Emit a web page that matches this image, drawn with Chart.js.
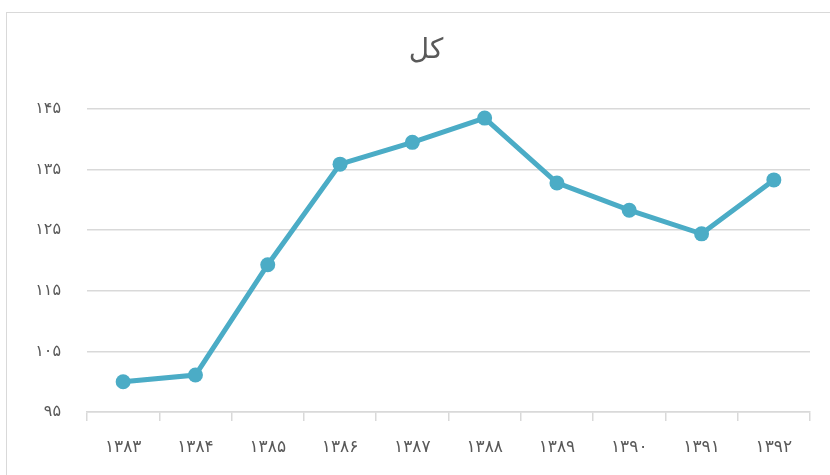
<!DOCTYPE html>
<html>
<head>
<meta charset="utf-8">
<script src="https://cdn.jsdelivr.net/npm/chart.js@4"></script>
<style>
  html, body { margin: 0; padding: 0; background: #fff; }
  #frame { position: absolute; left: 6px; top: 12px; width: 840px; height: 480px; border: 1px solid #d9d9d9; box-sizing: border-box; }
  #wrap { position: absolute; left: 0; top: 0; width: 830px; height: 475px; }
</style>
</head>
<body>
<div id="frame"></div>
<div id="wrap"><canvas id="c" width="830" height="475"></canvas></div>
<script>
const title = 'کل';
const categories = ['۱۳۸۳', '۱۳۸۴', '۱۳۸۵', '۱۳۸۶', '۱۳۸۷', '۱۳۸۸', '۱۳۸۹', '۱۳۹۰', '۱۳۹۱', '۱۳۹۲'];
const values = [100.0, 101.1, 119.3, 135.9, 139.5, 143.5, 132.8, 128.3, 124.4, 133.3];
const yTicks = [95, 105, 115, 125, 135, 145];
const yTickLabels = ['۹۵', '۱۰۵', '۱۱۵', '۱۲۵', '۱۳۵', '۱۴۵'];

const textColor = '#595959';
const gridColor = '#d9d9d9';
const fontFamily = '"DejaVu Sans", sans-serif';

// centre the title over the framed panel rather than the whole canvas
const titleShift = {
  id: 'titleShift',
  afterLayout(chart) {
    const t = chart.titleBlock;
    if (t) { t.left += 42; }
  }
};

new Chart(document.getElementById('c'), {
  type: 'line',
  data: {
    labels: categories,
    datasets: [{
      data: values,
      borderColor: '#4bacc6',
      backgroundColor: '#4bacc6',
      borderWidth: 5,
      pointRadius: 7.5,
      pointHoverRadius: 7.5,
      pointBackgroundColor: '#4bacc6',
      pointBorderWidth: 0,
      tension: 0,
      fill: false
    }]
  },
  plugins: [titleShift],
  options: {
    responsive: false,
    animation: false,
    layout: { padding: { left: 0, right: 20, top: 0, bottom: 18 } },
    plugins: {
      legend: { display: false },
      tooltip: { enabled: false },
      title: {
        display: true,
        text: title,
        color: textColor,
        font: { family: fontFamily, size: 28, weight: 'normal', lineHeight: 1.2 },
        padding: { top: 34, bottom: 41.4 }
      }
    },
    scales: {
      x: {
        type: 'category',
        offset: true,
        grid: { display: true, offset: true, drawOnChartArea: false, drawTicks: true, tickLength: 9, color: gridColor, lineWidth: 1.5 },
        border: { display: true, color: gridColor, width: 1.5 },
        ticks: { color: textColor, font: { family: fontFamily, size: 17 }, padding: 16, maxRotation: 0, autoSkip: false },
        afterFit: s => { s.height = 45; }
      },
      y: {
        min: 95,
        max: 145,
        afterBuildTicks: s => { s.ticks = yTicks.map(v => ({ value: v })); },
        grid: { color: gridColor, lineWidth: 1.5, drawTicks: false },
        border: { display: false },
        ticks: {
          color: textColor,
          font: { family: fontFamily, size: 16 },
          padding: 26,
          callback: (v) => { const i = yTicks.indexOf(v); return i >= 0 ? yTickLabels[i] : ''; }
        },
        afterFit: s => { s.width = 87; }
      }
    }
  }
});
</script>
</body>
</html>
